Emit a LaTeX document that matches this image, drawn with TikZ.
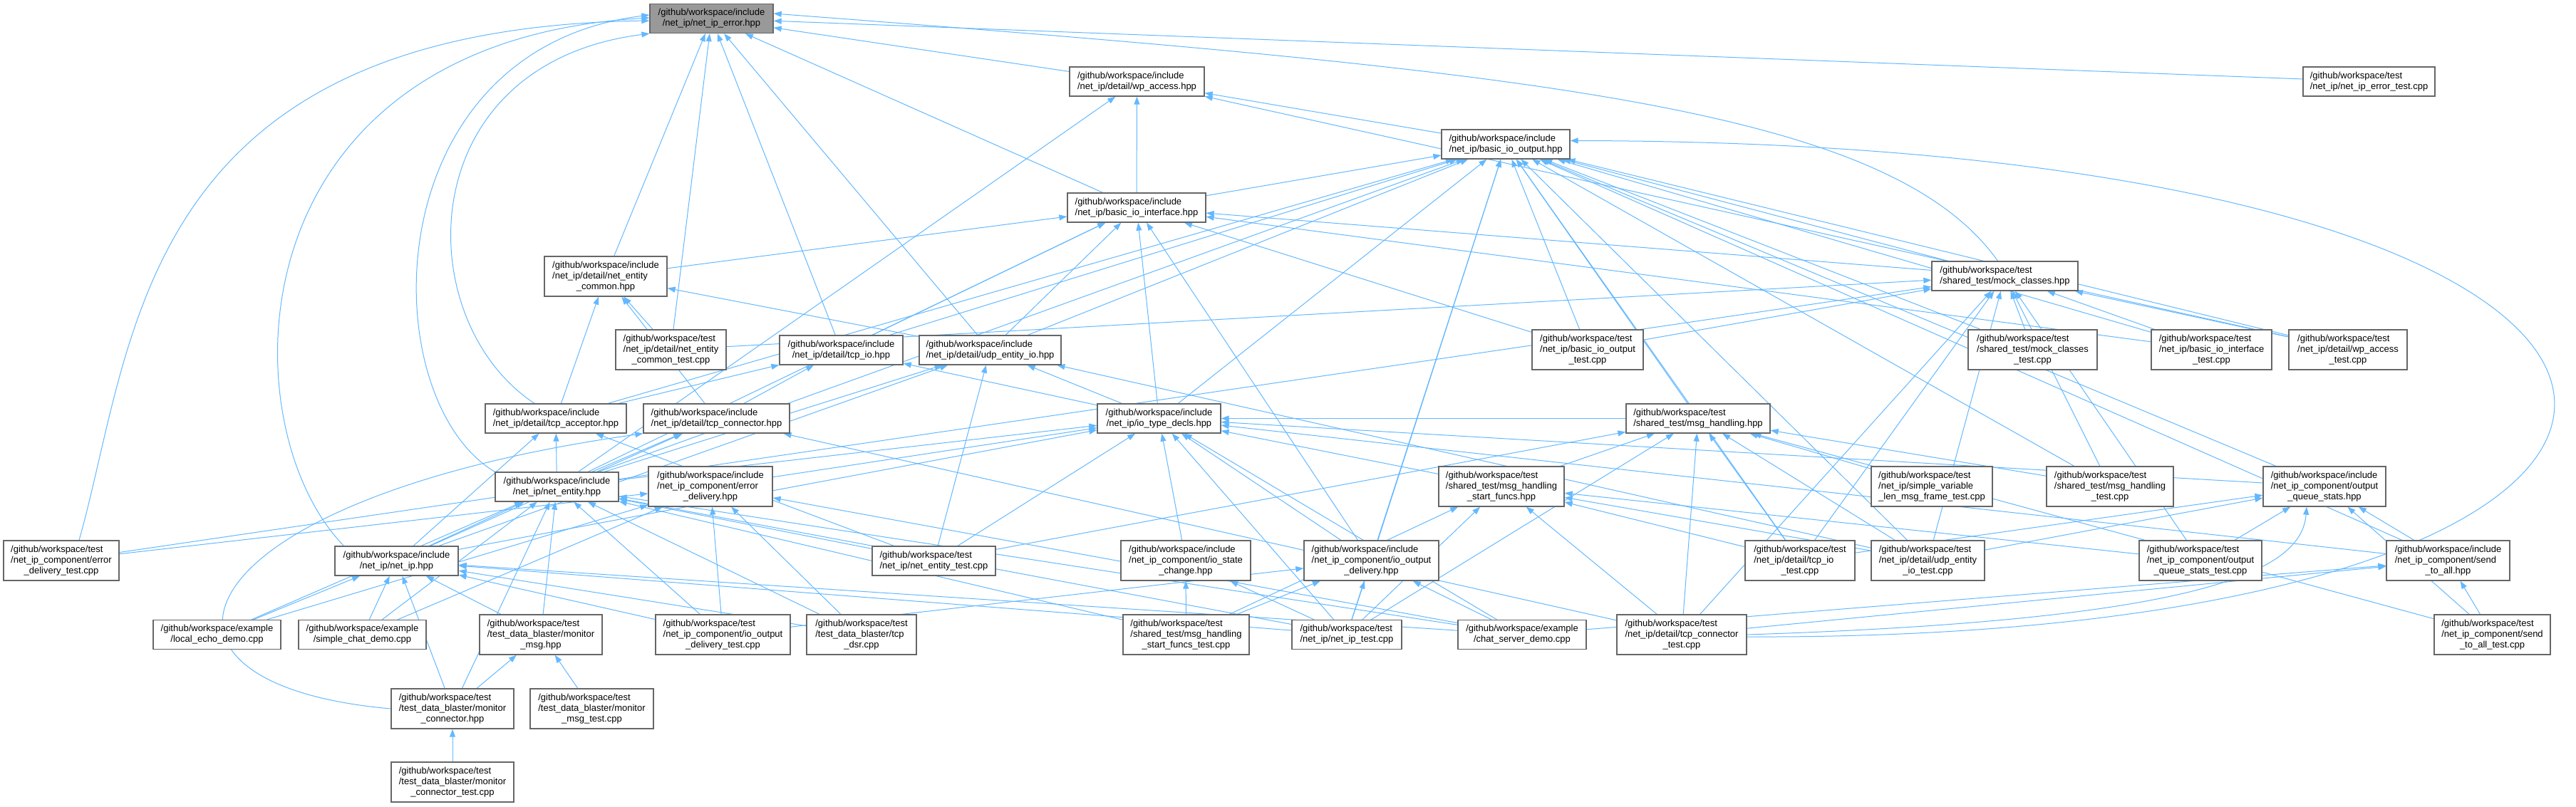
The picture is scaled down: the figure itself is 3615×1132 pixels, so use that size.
\documentclass[tikz,border=0pt]{standalone}
\usepackage{fontspec}
\setmainfont{Liberation Sans}
\usetikzlibrary{arrows.meta,backgrounds}
\definecolor{edgeblue}{HTML}{63B8FF}
\definecolor{boxline}{HTML}{666666}
\definecolor{rootfill}{HTML}{999999}
\newcommand{\ftwo}[2]{\begin{tabular}{@{}l@{}}#1\\\multicolumn{1}{@{}c@{}}{#2}\end{tabular}}
\newcommand{\fthree}[3]{\begin{tabular}{@{}l@{}}#1\\#2\\\multicolumn{1}{@{}c@{}}{#3}\end{tabular}}
\tikzset{
	file/.style={draw=boxline,line width=1.3pt,fill=white,inner sep=0pt,minimum height=41pt,font=\fontsize{13}{15}\selectfont},
	tall/.style={minimum height=56pt},
	wd/.style={minimum width=#1pt},
	root/.style={file,fill=rootfill},
	dep/.style={draw=edgeblue,line width=1pt,-{Triangle[length=11pt,width=8pt]}}
}
\begin{document}
\begin{tikzpicture}[x=1pt,y=-1pt]
		\useasboundingbox (0,0) rectangle (3615,1132);
		% rank 0 to 2
		\node[root,wd=173] (err) at (998.5,26) {\ftwo{/github/workspace/include}{/net\_ip/net\_ip\_error.hpp}};
		\node[file,wd=189] (wpacc) at (1595.5,114.5) {\ftwo{/github/workspace/include}{/net\_ip/detail/wp\_access.hpp}};
		\node[file,wd=185] (errtest) at (3324.5,114.5) {\ftwo{/github/workspace/test}{/net\_ip/net\_ip\_error\_test.cpp}};
		\node[file,wd=180] (bioout) at (2113,202.5) {\ftwo{/github/workspace/include}{/net\_ip/basic\_io\_output.hpp}};
		\node[file,wd=194] (bioif) at (1595,291.5) {\ftwo{/github/workspace/include}{/net\_ip/basic\_io\_interface.hpp}};
		% rank 3 and 4
		\node[file,tall,wd=172] (necommon) at (850,388) {\fthree{/github/workspace/include}{/net\_ip/detail/net\_entity}{\_common.hpp}};
		\node[file,wd=205] (mockcls) at (2813.5,387.5) {\ftwo{/github/workspace/test}{/shared\_test/mock\_classes.hpp}};
		\node[file,tall,wd=155] (necommontest) at (941.5,491) {\fthree{/github/workspace/test}{/net\_ip/detail/net\_entity}{\_common\_test.cpp}};
		\node[file,wd=173] (tcpio) at (1180.5,491.5) {\ftwo{/github/workspace/include}{/net\_ip/detail/tcp\_io.hpp}};
		\node[file,wd=199] (udpio) at (1389.5,491.5) {\ftwo{/github/workspace/include}{/net\_ip/detail/udp\_entity\_io.hpp}};
		\node[file,tall,wd=156] (biouttest) at (2228,491) {\fthree{/github/workspace/test}{/net\_ip/basic\_io\_output}{\_test.cpp}};
		\node[file,tall,wd=181] (mocktest) at (2852.5,491) {\fthree{/github/workspace/test}{/shared\_test/mock\_classes}{\_test.cpp}};
		\node[file,tall,wd=169] (bioiftest) at (3103.5,491) {\fthree{/github/workspace/test}{/net\_ip/basic\_io\_interface}{\_test.cpp}};
		\node[file,tall,wd=166] (wpacctest) at (3295,491) {\fthree{/github/workspace/test}{/net\_ip/detail/wp\_access}{\_test.cpp}};
		% rank 5 and 6
		\node[file,wd=198] (tcpacc) at (780,587.5) {\ftwo{/github/workspace/include}{/net\_ip/detail/tcp\_acceptor.hpp}};
		\node[file,wd=205] (tcpconn) at (1005.5,587.5) {\ftwo{/github/workspace/include}{/net\_ip/detail/tcp\_connector.hpp}};
		\node[file,wd=173] (iotypes) at (1626.5,587.5) {\ftwo{/github/workspace/include}{/net\_ip/io\_type\_decls.hpp}};
		\node[file,wd=202] (msghdl) at (2383,587.5) {\ftwo{/github/workspace/test}{/shared\_test/msg\_handling.hpp}};
		\node[file,wd=173] (netentity) at (781.5,683.5) {\ftwo{/github/workspace/include}{/net\_ip/net\_entity.hpp}};
		\node[file,tall,wd=174] (errdel) at (997,683) {\fthree{/github/workspace/include}{/net\_ip\_component/error}{\_delivery.hpp}};
		\node[file,tall,wd=176] (startfuncs) at (2107,683) {\fthree{/github/workspace/test}{/shared\_test/msg\_handling}{\_start\_funcs.hpp}};
		\node[file,tall,wd=170] (simplevar) at (2711,683) {\fthree{/github/workspace/test}{/net\_ip/simple\_variable}{\_len\_msg\_frame\_test.cpp}};
		\node[file,tall,wd=178] (msghdltest) at (2961,683) {\fthree{/github/workspace/test}{/shared\_test/msg\_handling}{\_test.cpp}};
		\node[file,tall,wd=172] (oqstats) at (3262,683) {\fthree{/github/workspace/include}{/net\_ip\_component/output}{\_queue\_stats.hpp}};
		% rank 7
		\node[file,tall,wd=162] (errdeltest) at (86,787) {\fthree{/github/workspace/test}{/net\_ip\_component/error}{\_delivery\_test.cpp}};
		\node[file,wd=173] (netip) at (556.5,787.5) {\ftwo{/github/workspace/include}{/net\_ip/net\_ip.hpp}};
		\node[file,wd=173] (netentitytest) at (1310.5,787.5) {\ftwo{/github/workspace/test}{/net\_ip/net\_entity\_test.cpp}};
		\node[file,tall,wd=182] (iostate) at (1664,787) {\fthree{/github/workspace/include}{/net\_ip\_component/io\_state}{\_change.hpp}};
		\node[file,tall,wd=189] (iooutdel) at (1924.5,787) {\fthree{/github/workspace/include}{/net\_ip\_component/io\_output}{\_delivery.hpp}};
		\node[file,tall,wd=154] (tcpiotest) at (2526,787) {\fthree{/github/workspace/test}{/net\_ip/detail/tcp\_io}{\_test.cpp}};
		\node[file,tall,wd=159] (udpiotest) at (2705.5,787) {\fthree{/github/workspace/test}{/net\_ip/detail/udp\_entity}{\_io\_test.cpp}};
		\node[file,tall,wd=172] (oqstatstest) at (3088,787) {\fthree{/github/workspace/test}{/net\_ip\_component/output}{\_queue\_stats\_test.cpp}};
		\node[file,tall,wd=173] (sendall) at (3435.5,787) {\fthree{/github/workspace/include}{/net\_ip\_component/send}{\_to\_all.hpp}};
		% rank 8 to 10
		\node[file,wd=179] (localecho) at (304.5,891) {\ftwo{/github/workspace/example}{/local\_echo\_demo.cpp}};
		\node[file,wd=179] (simplechat) at (508.5,891) {\ftwo{/github/workspace/example}{/simple\_chat\_demo.cpp}};
		\node[file,tall,wd=172] (monmsg) at (759,891) {\fthree{/github/workspace/test}{/test\_data\_blaster/monitor}{\_msg.hpp}};
		\node[file,tall,wd=189] (iooutdeltest) at (1014.5,891) {\fthree{/github/workspace/test}{/net\_ip\_component/io\_output}{\_delivery\_test.cpp}};
		\node[file,tall,wd=154] (tcpdsr) at (1209,891) {\fthree{/github/workspace/test}{/test\_data\_blaster/tcp}{\_dsr.cpp}};
		\node[file,tall,wd=177] (startfuncstest) at (1664.5,891) {\fthree{/github/workspace/test}{/shared\_test/msg\_handling}{\_start\_funcs\_test.cpp}};
		\node[file,wd=154] (netiptest) at (1890,891) {\ftwo{/github/workspace/test}{/net\_ip/net\_ip\_test.cpp}};
		\node[file,wd=180] (chatserver) at (2136,891) {\ftwo{/github/workspace/example}{/chat\_server\_demo.cpp}};
		\node[file,tall,wd=182] (tcpconntest) at (2360,891) {\fthree{/github/workspace/test}{/net\_ip/detail/tcp\_connector}{\_test.cpp}};
		\node[file,tall,wd=163] (sendalltest) at (3497.5,891) {\fthree{/github/workspace/test}{/net\_ip\_component/send}{\_to\_all\_test.cpp}};
		\node[file,tall,wd=172] (monconn) at (635,995) {\fthree{/github/workspace/test}{/test\_data\_blaster/monitor}{\_connector.hpp}};
		\node[file,tall,wd=173] (monmsgtest) at (830.5,995) {\fthree{/github/workspace/test}{/test\_data\_blaster/monitor}{\_msg\_test.cpp}};
		\node[file,tall,wd=172] (monconntest) at (635,1098) {\fthree{/github/workspace/test}{/test\_data\_blaster/monitor}{\_connector\_test.cpp}};
		% include edges
		\begin{scope}[on background layer]
		\foreach \src/\dst in {errtest/err,wpacc/err,necommon/err,necommontest/err,tcpio/err,udpio/err,bioif/err,
			bioif/wpacc,netentity/wpacc,bioout/wpacc,wpacctest/wpacc,
			bioif/bioout,tcpacc/bioout,netentity/bioout,tcpio/bioout,udpio/bioout,iotypes/bioout,iooutdel/bioout,msghdl/bioout,biouttest/bioout,mockcls/bioout,bioiftest/bioout,oqstats/bioout,sendall/bioout,msghdltest/bioout,tcpiotest/bioout,udpiotest/bioout,netiptest/bioout,wpacctest/bioout,mocktest/bioout,
			necommon/bioif,tcpio/bioif,udpio/bioif,iotypes/bioif,netentity/bioif,iooutdel/bioif,mockcls/bioif,bioiftest/bioif,biouttest/bioif,
			udpio/necommon,tcpacc/necommon,tcpconn/necommon,necommontest/necommon,
			necommontest/mockcls,errdeltest/mockcls,mocktest/mockcls,bioiftest/mockcls,wpacctest/mockcls,biouttest/mockcls,tcpiotest/mockcls,udpiotest/mockcls,msghdltest/mockcls,oqstatstest/mockcls,tcpconntest/mockcls,
			tcpacc/tcpio,tcpconn/tcpio,iotypes/tcpio,
			netentity/udpio,netip/udpio,netentitytest/udpio,iotypes/udpio,udpiotest/udpio,
			netip/tcpacc,netentity/tcpacc,netentitytest/tcpacc,
			netentity/tcpconn,tcpconntest/tcpconn,netip/tcpconn,
			netentity/iotypes,errdel/iotypes,iostate/iotypes,iooutdel/iotypes,netentitytest/iotypes,netiptest/iotypes,startfuncs/iotypes,msghdl/iotypes,oqstats/iotypes,sendall/iotypes,chatserver/iotypes,netip/iotypes,
			startfuncs/msghdl,msghdltest/msghdl,simplevar/msghdl,tcpiotest/msghdl,udpiotest/msghdl,tcpconntest/msghdl,sendalltest/msghdl,netiptest/msghdl,netentitytest/msghdl,
			startfuncstest/startfuncs,netiptest/startfuncs,tcpconntest/startfuncs,tcpiotest/startfuncs,udpiotest/startfuncs,oqstatstest/startfuncs,
			errdeltest/errdel,tcpdsr/errdel,iooutdeltest/errdel,chatserver/errdel,simplechat/errdel,localecho/errdel,
			netip/netentity,localecho/netentity,simplechat/netentity,monconn/netentity,monmsg/netentity,netentitytest/netentity,iooutdeltest/netentity,tcpdsr/netentity,startfuncstest/netentity,chatserver/netentity,netiptest/netentity,
			localecho/netip,simplechat/netip,monmsg/netip,monconn/netip,iooutdeltest/netip,tcpdsr/netip,netiptest/netip,chatserver/netip,
			startfuncstest/iostate,netiptest/iostate,
			iooutdeltest/iooutdel,startfuncstest/iooutdel,netiptest/iooutdel,chatserver/iooutdel,
			oqstatstest/oqstats,sendall/oqstats,sendalltest/oqstats,tcpiotest/oqstats,udpiotest/oqstats,
			sendalltest/sendall,tcpconntest/sendall,chatserver/sendall,
			monconn/monmsg,monmsgtest/monmsg,monconntest/monconn}
			\draw[dep] (\src) -- (\dst);
		% long curves
		\draw[dep] ([xshift=25pt]errdeltest.north) .. controls (190,480) and (190,40) .. ([yshift=-3pt]err.west);
		\draw[dep] ([xshift=-74pt]netip.north) .. controls (320,600) and (320,60) .. ([yshift=1pt]err.west);
		\draw[dep] (netentity.north west) .. controls (523,560) and (523,70) .. ([yshift=5pt]err.west);
		\draw[dep] ([xshift=-30pt]tcpacc.north) .. controls (574,450) and (574,90) .. (err.south west);
		\draw[dep] ([xshift=-10pt]mockcls.north) .. controls (2650,150) and (2150,100) .. ([yshift=7pt]err.east);
		\draw[dep] ([yshift=-3pt]tcpconntest.east) .. controls (4000,900) and (4000,200) .. ([yshift=5pt]bioout.east);
		\draw[dep] (tcpconntest.east) .. controls (3100,870) and (3230,800) .. ([xshift=-25pt]oqstats.south);
		\draw[dep] (monconn.west) .. controls (150,960) and (250,700) .. (tcpconn.south west);
		\end{scope}
	\end{tikzpicture}
\end{document}
